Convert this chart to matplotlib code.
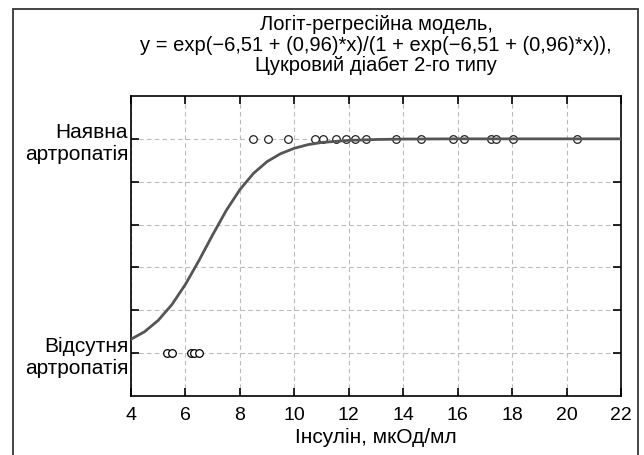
import matplotlib
matplotlib.use("Agg")
import matplotlib.pyplot as plt
from matplotlib.patches import Rectangle

plt.rcParams['font.family'] = ['Liberation Sans', 'DejaVu Sans']

# fitted logistic curve
curve_x = [4, 4.5, 5, 5.5, 6, 6.5, 7, 7.5, 8, 8.5, 9, 9.5, 10, 10.5, 11, 12, 13, 14, 16, 18, 20, 22]
curve_y = [0.065, 0.10, 0.153, 0.226, 0.321, 0.433, 0.552, 0.666, 0.763, 0.839, 0.894,
           0.931, 0.956, 0.973, 0.983, 0.993, 0.997, 0.999, 1.0, 1.0, 1.0, 1.0]

# observations: insulin value, outcome (0 = absent, 1 = present)
absent_x = [5.31, 5.50, 6.19, 6.33, 6.48]
present_x = [8.49, 9.05, 9.76, 10.77, 11.06, 11.54, 11.88, 12.22, 12.64,
             13.75, 14.66, 15.83, 16.25, 17.22, 17.42, 18.05, 20.40]

title = ("Логіт-регресійна модель,\n"
         "y = exp(\u22126,51 + (0,96)*x)/(1 + exp(\u22126,51 + (0,96)*x)),\n"
         "Цукровий діабет 2-го типу")
xlabel = "Інсулін, мкОд/мл"
ytick_vals = [0, 0.2, 0.4, 0.6, 0.8, 1.0]
ytick_labels = ["Відсутня\nартропатія", "", "", "", "", "Наявна\nартропатія"]
xtick_vals = list(range(4, 23, 2))

fig = plt.figure(figsize=(6.44, 4.56), dpi=100)
ax = fig.add_axes([0.2034, 0.1294, 0.7609, 0.6579])

ax.grid(True, color='#bbbbbb', linestyle=(0, (4, 3)), linewidth=0.8)
ax.set_axisbelow(True)

ax.plot(curve_x, curve_y, color='#555555', linewidth=2.0, zorder=3)
ax.plot(absent_x, [0] * len(absent_x), 'o', mfc='white', mec='black',
        ms=5.5, mew=0.9, zorder=4)
ax.plot(present_x, [1] * len(present_x), 'o', mfc='white', mec='#222222',
        ms=5.5, mew=0.9, zorder=2)

ax.set_xlim(4, 22)
ax.set_ylim(-0.2, 1.2)
ax.set_xticks(xtick_vals)
ax.set_yticks(ytick_vals)
ax.set_yticklabels(ytick_labels, ha='right', multialignment='right')
ax.tick_params(direction='in', length=6, width=1.2, top=True, right=True)
ax.tick_params(axis='x', labelsize=14, pad=7)
ax.tick_params(axis='y', labelsize=15, pad=2)
for s in ax.spines.values():
    s.set_linewidth(1.2)

ax.set_xlabel(xlabel, fontsize=15, labelpad=3)
fig.text(0.5839, 0.901, title, ha='center', va='center', fontsize=14.5,
         linespacing=1.1)

fig.patches.append(Rectangle((13 / 644, -0.02), 625 / 644, 1 - 10 / 456 + 0.02,
                             transform=fig.transFigure, fill=False,
                             edgecolor='#444444', linewidth=1.4))

fig.savefig("out.png", dpi=100)
